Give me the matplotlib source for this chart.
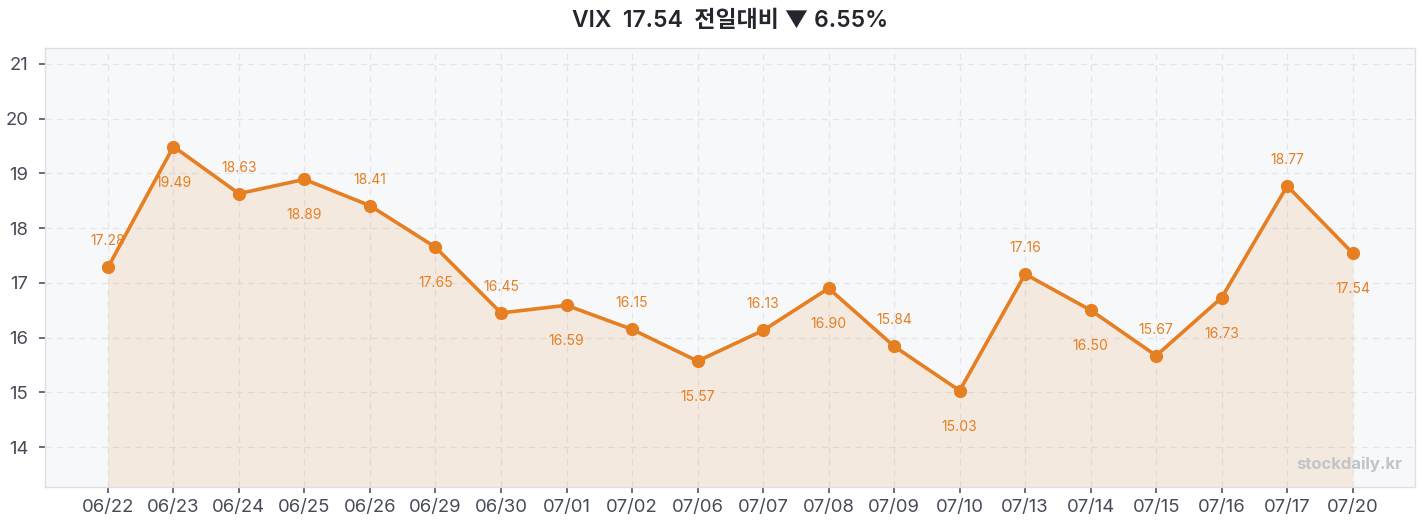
import matplotlib
matplotlib.use("Agg")
import matplotlib.pyplot as plt

plt.rcParams['font.family'] = ['Inter', 'Noto Sans CJK KR', 'DejaVu Sans']

dates = ["06/22", "06/23", "06/24", "06/25", "06/26", "06/29", "06/30", "07/01", "07/02", "07/06",
         "07/07", "07/08", "07/09", "07/10", "07/13", "07/14", "07/15", "07/16", "07/17", "07/20"]
values = [17.28, 19.49, 18.63, 18.89, 18.41, 17.65, 16.45, 16.59, 16.15, 15.57,
          16.13, 16.90, 15.84, 15.03, 17.16, 16.50, 15.67, 16.73, 18.77, 17.54]
yticks = [14, 15, 16, 17, 18, 19, 20, 21]
title = "VIX  17.54  전일대비 ▼ 6.55%"

color = "#E67E22"
fig = plt.figure(figsize=(14.27, 5.29), dpi=100)
ax = fig.add_axes([45/1427, 1-487/529, 1370/1427, 439/529])
ax.set_facecolor("#F7F8FA")
x = list(range(len(values)))
ymin, ymax = 13.27, 21.29
ax.set_xlim(-0.96, len(values) - 1 + 0.95)
ax.set_ylim(ymin, ymax)
ax.fill_between(x, values, ymin, color=color, alpha=0.12, linewidth=0, zorder=2)
ax.plot(x, values, color=color, linewidth=2.6, marker='o', markersize=8.5, zorder=3)
for i, v in enumerate(values):
    dy = 26 if i % 2 == 0 else -36
    ax.annotate(f"{v:.2f}", (i, v), textcoords='offset pixels', xytext=(0, dy),
                ha='center', va='center', fontsize=10, color=color, zorder=4)
ax.set_xticks(x)
ax.set_xticklabels(dates)
ax.set_yticks(yticks)
ax.tick_params(axis='both', colors="#4B5160", labelsize=13.3, length=4, width=1.2)
ax.tick_params(axis='x', pad=5)
ax.tick_params(axis='y', pad=8)
for lbl in ax.get_xticklabels() + ax.get_yticklabels():
    lbl.set_color("#464B57")
ax.grid(True, color="#E3E5EA", linestyle=(0, (5, 4)), linewidth=0.9, zorder=1)
for s in ax.spines.values():
    s.set_color("#DCDFE5")
    s.set_linewidth(1)
ax.text(0.991, 0.035, "stockdaily.kr", transform=ax.transAxes, ha='right', va='bottom',
        fontsize=12, fontweight='bold', color="#C0C4CB", zorder=5)
fig.text(730/1427, 1-21/529, title, ha='center', va='center', fontsize=16.5, fontweight='semibold',
         color="#23262D")
fig.savefig("out.png", dpi=100, facecolor="white")
